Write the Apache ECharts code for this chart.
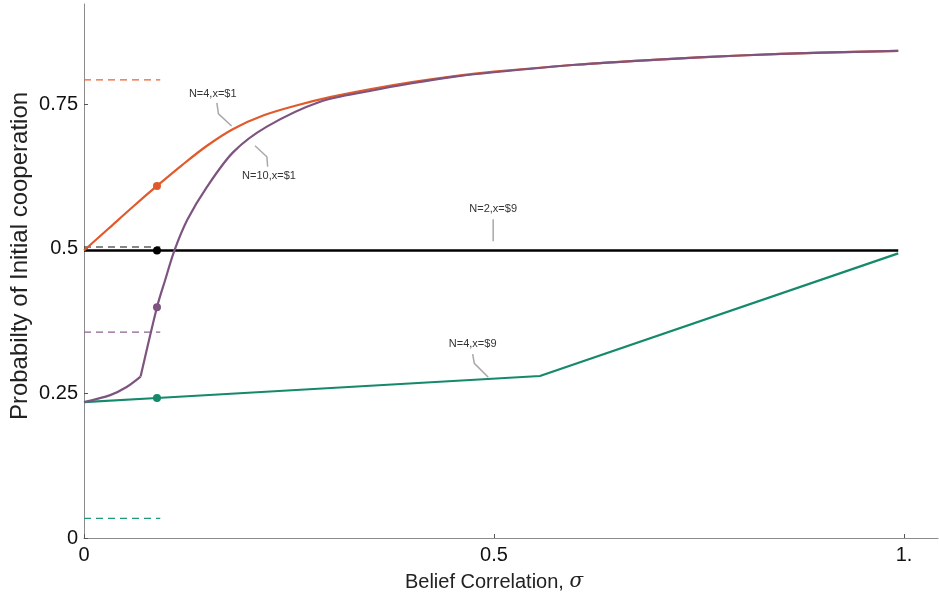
<!DOCTYPE html>
<html>
<head>
<meta charset="utf-8">
<script src="https://cdn.jsdelivr.net/npm/echarts@6/dist/echarts.min.js"></script>
<style>
  html, body { margin: 0; padding: 0; background: #fff; }
  #chart { width: 939px; height: 602px; }
</style>
</head>
<body>
<div id="chart"></div>
<script>
// Belief correlation (sigma) vs. probability of initial cooperation

const xTicks = [0, 0.5, 1];
const xTickText = ['0', '0.5', '1.'];
const yTicks = [0, 0.25, 0.5, 0.75];
const yTickText = ['0', '0.25', '0.5', '0.75'];

// N=4, x=$1
const sigmaN4x1 = [0, 0.03, 0.06, 0.089, 0.12, 0.15, 0.182, 0.22, 0.26, 0.30, 0.35, 0.40, 0.45, 0.50, 0.60, 0.70, 0.80, 0.90, 0.993];
const probN4x1  = [0.497, 0.535, 0.573, 0.6085, 0.645, 0.678, 0.707, 0.731, 0.748, 0.762, 0.776, 0.788, 0.798, 0.806, 0.818, 0.827, 0.834, 0.839, 0.842];

// N=10, x=$1 (slow rise up to the kink, then a steep climb)
const sigmaN10x1Low = [0, 0.032, 0.052, 0.069];
const probN10x1Low  = [0.235, 0.247, 0.261, 0.279];
const sigmaN10x1High = [0.069, 0.089, 0.099, 0.11, 0.126, 0.15, 0.182, 0.223, 0.288, 0.35, 0.40, 0.45, 0.50, 0.60, 0.70, 0.80, 0.90, 0.993];
const probN10x1High  = [0.279, 0.399, 0.446, 0.496, 0.550, 0.607, 0.667, 0.711, 0.754, 0.773, 0.786, 0.797, 0.805, 0.818, 0.827, 0.834, 0.839, 0.842];

// N=2, x=$9
const sigmaN2x9 = [0, 0.993];
const probN2x9  = [0.497, 0.497];

// N=4, x=$9
const sigmaN4x9 = [0, 0.089, 0.556, 0.993];
const probN4x9  = [0.235, 0.242, 0.280, 0.492];

// highlighted points at sigma = 0.089
const markSigma = 0.089;
const markProb = [0.6085, 0.497, 0.399, 0.242];

// short dashed reference levels
const refSigmaEnd = 0.093;
const refLevels = [0.792, 0.503, 0.356, 0.034];

const colors = {
  orange: '#e05a2b',
  purple: '#7d5480',
  black: '#000000',
  green: '#14896b'
};
const refColors = ['#ec5f32', '#111111', '#8a6290', '#1f9a7a'];
const markColors = [colors.orange, colors.black, colors.purple, colors.green];

// curve labels with leader lines, in data units
const labelText = ['N=4,x=$1', 'N=10,x=$1', 'N=2,x=$9', 'N=4,x=$9'];
const labelAt = [[0.157, 0.767], [0.2256, 0.626], [0.499, 0.568], [0.474, 0.335]];
const labelLeaders = [
  [[0.162, 0.752], [0.164, 0.733], [0.180, 0.712]],
  [[0.2085, 0.678], [0.223, 0.659], [0.224, 0.642]],
  [[0.499, 0.551], [0.499, 0.513]],
  [[0.474, 0.318], [0.476, 0.302], [0.493, 0.278]]
];

const zip = (xs, ys) => xs.map((x, i) => [x, ys[i]]);

const lineSeries = (name, xs, ys, color, width, z, smooth) => ({
  name, type: 'line', data: zip(xs, ys), showSymbol: false, symbol: 'none',
  smooth: smooth || false,
  color, lineStyle: { color, width }, z, silent: true
});

const refSeries = refLevels.map((lv, i) => ({
  type: 'line', data: [[0, lv], [refSigmaEnd, lv]], symbol: 'none', silent: true,
  color: refColors[i],
  lineStyle: { color: refColors[i], width: 1.2, type: [7, 5] }, z: 2
}));

const chart = echarts.init(document.getElementById('chart'), null, { renderer: 'canvas' });

chart.setOption({
  animation: false,
  backgroundColor: '#ffffff',
  textStyle: { fontFamily: 'Liberation Sans, Arial, sans-serif' },
  grid: { left: 84, right: 1, top: 4, bottom: 64, containLabel: false, outerBoundsMode: 'none' },
  xAxis: {
    type: 'value', min: 0, max: 1.0415,
    name: '{a|Belief Correlation, }{b|σ}',
    nameLocation: 'middle', nameGap: 34, nameMoveOverlap: false,
    nameTextStyle: {
      padding: [0, 34, 0, 0],
      rich: {
        a: { fontSize: 20, color: '#222', fontFamily: 'Liberation Sans, Arial, sans-serif' },
        b: { fontSize: 20, color: '#222', fontStyle: 'italic', fontFamily: 'DejaVu Serif, serif' }
      }
    },
    axisLine: { show: true, lineStyle: { color: '#8c8c8c', width: 1 } },
    axisTick: { show: true, inside: true, length: 4, lineStyle: { color: '#555' }, customValues: xTicks },
    axisLabel: {
      customValues: xTicks, margin: 7, fontSize: 20, color: '#111',
      formatter: v => { const i = xTicks.findIndex(t => Math.abs(t - v) < 1e-9); return i >= 0 ? xTickText[i] : ''; }
    },
    splitLine: { show: false }
  },
  yAxis: {
    type: 'value', min: 0, max: 0.923,
    name: 'Probabilty of Initial cooperation',
    nameLocation: 'middle', nameGap: 52, nameRotate: 90, nameMoveOverlap: false,
    nameTextStyle: { fontSize: 24, color: '#222', padding: [0, 0, 0, 30] },
    axisLine: { show: true, lineStyle: { color: '#8c8c8c', width: 1 } },
    axisTick: { show: true, inside: true, length: 4, lineStyle: { color: '#555' }, customValues: yTicks },
    axisLabel: {
      customValues: yTicks, margin: 6, fontSize: 20, color: '#111',
      formatter: v => { const i = yTicks.findIndex(t => Math.abs(t - v) < 1e-9); return i >= 0 ? yTickText[i] : ''; }
    },
    splitLine: { show: false }
  },
  series: [
    ...refSeries,
    lineSeries('N=2,x=$9', sigmaN2x9, probN2x9, colors.black, 2.5, 3),
    lineSeries('N=4,x=$9', sigmaN4x9, probN4x9, colors.green, 2.2, 4),
    lineSeries('N=4,x=$1', sigmaN4x1, probN4x1, colors.orange, 2.2, 5, 0.3),
    lineSeries('N=10,x=$1', sigmaN10x1Low, probN10x1Low, colors.purple, 2.2, 6, 0.3),
    lineSeries('N=10,x=$1', sigmaN10x1High, probN10x1High, colors.purple, 2.2, 6, 0.3),
    {
      type: 'scatter', silent: true, z: 8, symbolSize: 8,
      data: markProb.map((p, i) => ({ value: [markSigma, p], itemStyle: { color: markColors[i], opacity: 1 } }))
    },
    {
      type: 'custom', silent: true, z: 9,
      data: labelText.map((t, i) => [labelAt[i][0], labelAt[i][1], i]),
      renderItem: (params, api) => {
        const i = api.value(2);
        const c = api.coord([api.value(0), api.value(1)]);
        const pts = labelLeaders[i].map(p => api.coord(p));
        return {
          type: 'group',
          children: [
            { type: 'polyline', shape: { points: pts }, style: { stroke: '#a8a8a8', lineWidth: 1.5, fill: null } },
            { type: 'text', x: c[0], y: c[1], style: { text: labelText[i], fontSize: 11, fill: '#333', align: 'center', verticalAlign: 'middle', fontFamily: 'Liberation Sans, Arial, sans-serif' } }
          ]
        };
      }
    }
  ]
});
</script>
</body>
</html>
